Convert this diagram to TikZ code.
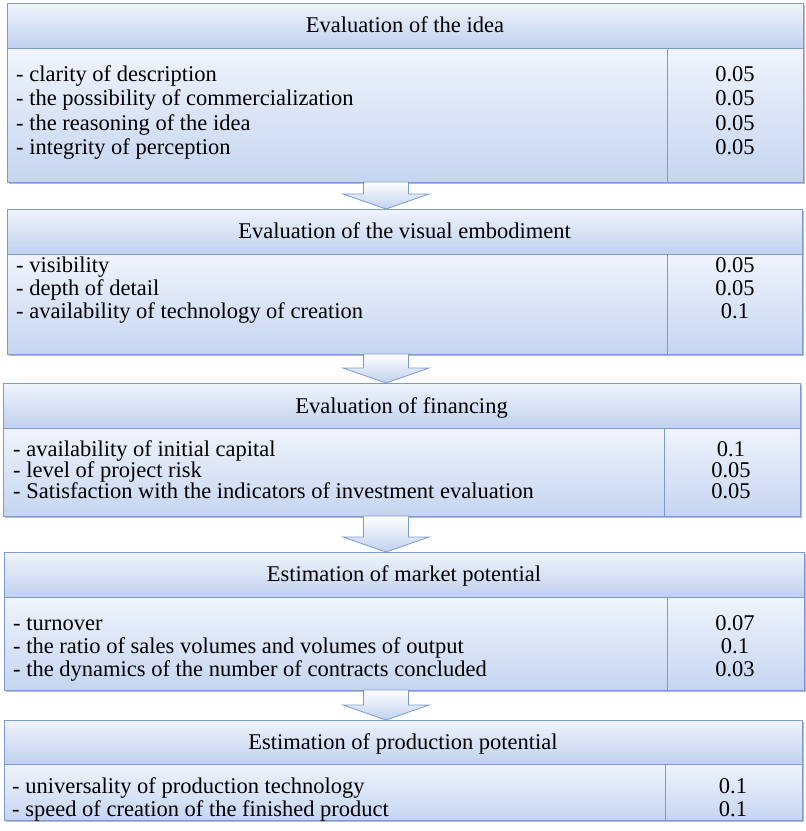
\documentclass[tikz,border=0pt]{standalone}
\usepackage{fontspec}
\setmainfont{Liberation Serif}
\usetikzlibrary{shadows,calc}

\definecolor{edge}{RGB}{122,155,210}
\definecolor{lighttop}{RGB}{240,244,252}
\definecolor{hdbot}{RGB}{192,209,238}
\definecolor{bdbot}{RGB}{197,213,240}

\tikzset{
  panel/.style={draw=edge, line width=1pt, inner sep=0pt, outer sep=0pt,
    anchor=north west, top color=lighttop,
    drop shadow={shadow xshift=1.5pt, shadow yshift=-1.5pt, fill=black!45, opacity=0.6}},
  head/.style={panel, bottom color=hdbot},
  body/.style={panel, bottom color=bdbot},
  rule/.style={draw=edge, line width=1pt},
  title/.style={font=\fontsize{22.5}{24}\selectfont, anchor=mid, inner sep=0pt},
  item/.style={font=\fontsize{22.5}{24}\selectfont, anchor=mid west, inner sep=0pt},
  val/.style={font=\fontsize{22.5}{24}\selectfont, anchor=mid, inner sep=0pt},
  flow/.style={draw=edge, line width=0.8pt, top color=white, bottom color=hdbot, line join=miter}
}

\begin{document}
\begin{tikzpicture}[x=1pt,y=-1pt]
\useasboundingbox (0,0) rectangle (806,831);
\coordinate (ax) at (386,0);

% ---- block 1: the idea
\node[head, minimum width=796pt, minimum height=45pt] (h1) at (7,3) {};
\node[body, minimum width=796pt, minimum height=134pt] (b1) at (7,48) {};
\coordinate (d1) at (667,0);
\draw[rule] (b1.north -| d1) -- (b1.south -| d1);
\node[title] (n1) at (405,30) {Evaluation of the idea};
\foreach \k/\y/\t/\v in {1/79/{- clarity of description}/0.05,
                          2/103.5/{- the possibility of commercialization}/0.05,
                          3/128/{- the reasoning of the idea}/0.05,
                          4/152.5/{- integrity of perception}/0.05}{
  \node[item] (t1\k) at (16,\y) {\t};
  \node[val] (v1\k) at (735,\y) {\v};
}

% ---- block 2: the visual embodiment
\node[head, minimum width=795pt, minimum height=45pt] (h2) at (7,209) {};
\node[body, minimum width=795pt, minimum height=100pt] (b2) at (7,254) {};
\coordinate (d2) at (667,0);
\draw[rule] (b2.north -| d2) -- (b2.south -| d2);
\node[title] (n2) at (404.5,236) {Evaluation of the visual embodiment};
\foreach \k/\y/\t/\v in {1/270/{- visibility}/0.05,
                          2/293/{- depth of detail}/0.05,
                          3/316/{- availability of technology of creation}/0.1}{
  \node[item] (t2\k) at (16,\y) {\t};
  \node[val] (v2\k) at (735,\y) {\v};
}

% ---- block 3: financing
\node[head, minimum width=797pt, minimum height=45pt] (h3) at (3,383) {};
\node[body, minimum width=797pt, minimum height=88pt] (b3) at (3,428) {};
\coordinate (d3) at (664,0);
\draw[rule] (b3.north -| d3) -- (b3.south -| d3);
\node[title] (n3) at (401.5,411) {Evaluation of financing};
\foreach \k/\y/\t/\v in {1/454/{- availability of initial capital}/0.1,
                          2/475/{- level of project risk}/0.05,
                          3/496/{- Satisfaction with the indicators of investment evaluation}/0.05}{
  \node[item] (t3\k) at (13,\y) {\t};
  \node[val] (v3\k) at (731,\y) {\v};
}

% ---- block 4: market potential
\node[head, minimum width=800pt, minimum height=45pt] (h4) at (4,552) {};
\node[body, minimum width=800pt, minimum height=93pt] (b4) at (4,597) {};
\coordinate (d4) at (667,0);
\draw[rule] (b4.north -| d4) -- (b4.south -| d4);
\node[title] (n4) at (404,579) {Estimation of market potential};
\foreach \k/\y/\t/\v in {1/628/{- turnover}/0.07,
                          2/651/{- the ratio of sales volumes and volumes of output}/0.1,
                          3/674/{- the dynamics of the number of contracts concluded}/0.03}{
  \node[item] (t4\k) at (13,\y) {\t};
  \node[val] (v4\k) at (735,\y) {\v};
}

% ---- block 5: production potential
\node[head, minimum width=798pt, minimum height=44pt] (h5) at (4,720) {};
\node[body, minimum width=798pt, minimum height=56pt] (b5) at (4,764) {};
\coordinate (d5) at (665,0);
\draw[rule] (b5.north -| d5) -- (b5.south -| d5);
\node[title] (n5) at (403,747) {Estimation of production potential};
\foreach \k/\y/\t/\v in {1/791/{- universality of production technology}/0.1,
                          2/814/{- speed of creation of the finished product}/0.1}{
  \node[item] (t5\k) at (12,\y) {\t};
  \node[val] (v5\k) at (733,\y) {\v};
}

% ---- block arrows between stages
\foreach \a/\b in {b1/h2, b2/h3, b3/h4, b4/h5}{
  \coordinate (s) at (\a.south -| ax);
  \coordinate (e) at (\b.north -| ax);
  \path[flow] ([xshift=-22.5pt]s) -- ([xshift=22.5pt]s)
    -- ([xshift=22.5pt,yshift=15pt]e) -- ([xshift=43pt,yshift=15pt]e)
    -- (e) -- ([xshift=-43pt,yshift=15pt]e) -- ([xshift=-22.5pt,yshift=15pt]e) -- cycle;
}
\end{tikzpicture}
\end{document}
